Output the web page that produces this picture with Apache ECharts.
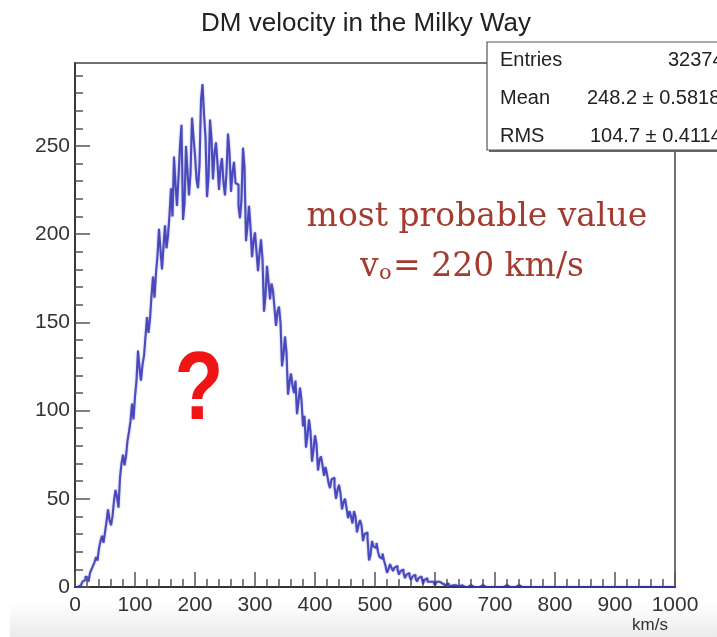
<!DOCTYPE html>
<html><head><meta charset="utf-8">
<script src="https://cdn.jsdelivr.net/npm/echarts@6/dist/echarts.min.js"></script>
<style>html,body{margin:0;padding:0;background:#fff}#c{width:717px;height:637px}</style>
</head><body><div id="c"></div>
<script>
const chartTitle = 'DM velocity in the Milky Way';
const xName = 'km/s';
const binWidth = 2.5;
const xMin = 0, xMax = 1000, xInterval = 100;
const yMin = 0, yMax = 297;
const counts = [
  0,0,1,1,1,3,4,6,5,3,8,10,12,14,17,15,22,26,29,25,
  31,37,44,38,35,40,49,55,51,45,62,70,75,69,74,83,88,94,104,95,
  108,117,134,124,117,126,131,142,153,144,152,165,176,164,178,188,203,191,180,193,
  205,192,199,211,226,210,244,228,216,232,250,262,208,217,250,235,222,234,266,255,
  245,231,226,239,276,285,268,255,221,232,265,254,231,246,252,240,225,238,243,229,
  222,235,257,246,224,235,241,229,228,216,209,220,249,238,196,205,216,204,187,196,
  201,190,179,189,197,186,156,165,182,173,163,172,168,158,148,156,159,150,125,132,
  142,133,109,116,121,114,110,117,98,105,113,106,91,97,79,86,95,88,71,78,
  86,81,66,72,74,69,63,68,64,59,56,61,62,57,50,55,58,53,44,48,
  50,45,39,43,40,36,43,40,31,35,38,35,26,30,31,28,15,18,26,23,
  22,25,20,17,16,19,15,12,8,10,13,11,9,11,12,10,7,9,10,8,
  5,7,8,6,4,6,7,5,3,5,6,5,2,4,5,3,3,4,3,2,
  1,3,3,2,2,1,1,1,2,1,0,1,2,1,1,0,0,1,0,0,
  1,0,0,1,0,0,1,0,0,0,0,1,0,0,1,0,0,0,0,0,
  1,0,0,0,0,0,0,1,1,0,0,0,0,0,0,1,0,0,0,0,
  0,0,0,0,1,0,0,0,0,0,0,0,0,0,0,0,0,0,0,0,
  0,0,0,0,0,0,0,0,0,0,0,0,0,0,0,0,0,0,0,0,
  0,0,0,0,0,0,0,0,0,0,0,0,0,0,0,0,0,0,0,0,
  0,0,0,0,0,0,0,0,0,0,0,0,0,0,0,0,0,0,0,0,
  0,0,0,0,0,0,0,0,0,0,0,0,0,0,0,0,0,0,0,0
];
const yMajorTicks = [0,50,100,150,200,250];
const yMinorTicks = [10,20,30,40,60,70,80,90,110,120,130,140,160,170,180,190,210,220,230,240,260,270,280,290];
const statsLabels = ['Entries','Mean','RMS'];
const statsValues = ['32374','248.2 \u00b1 0.5818','104.7 \u00b1 0.4114'];
const noteLine1 = 'most probable value';
const noteV = 'v', noteSub = 'o', noteRest = '= 220 km/s';
const questionMark = '?';

const histData = counts.map((c, i) => [xMin + i * binWidth, c]);
histData.push([xMin + counts.length * binWidth, counts[counts.length - 1]]);

const chart = echarts.init(document.getElementById('c'), null, {renderer: 'canvas'});
const sans = '"Liberation Sans", Arial, sans-serif';
const serif = '"DejaVu Serif", serif';
const statsX = [500, 500, 500];
const statsVX = [668, 587, 590];
const statsY = [60, 98, 136];
const graphics = [
  {type: 'rect', z: -10, shape: {x: 10, y: 602, width: 707, height: 35},
   style: {fill: new echarts.graphic.LinearGradient(0, 0, 0, 1, [{offset: 0, color: 'rgba(236,236,236,0)'}, {offset: 1, color: '#ebebeb'}])}},
  {type: 'text', z: 10, x: 668, y: 625, style: {text: xName, font: '17px ' + sans, fill: '#333', textAlign: 'right', textVerticalAlign: 'middle'}},
  {type: 'rect', z: 100, shape: {x: 489, y: 44, width: 240, height: 108}, style: {fill: '#666'}},
  {type: 'rect', z: 101, shape: {x: 487, y: 42, width: 240, height: 108}, style: {fill: '#fff', stroke: '#555', lineWidth: 1.2}},
  {type: 'text', z: 10, x: 477, y: 217, style: {text: noteLine1, font: '33px ' + serif, fill: '#a33b2f', textAlign: 'center', textVerticalAlign: 'middle'}},
  {type: 'text', z: 10, x: 360, y: 267, style: {text: noteV, font: '33px ' + serif, fill: '#a33b2f', textAlign: 'left', textVerticalAlign: 'middle'}},
  {type: 'text', z: 10, x: 379, y: 274, style: {text: noteSub, font: '21px ' + serif, fill: '#a33b2f', textAlign: 'left', textVerticalAlign: 'middle'}},
  {type: 'text', z: 10, x: 393, y: 267, style: {text: noteRest, font: '33px ' + serif, fill: '#a33b2f', textAlign: 'left', textVerticalAlign: 'middle'}},
  {type: 'text', z: 10, x: 199, y: 393, scaleY: 1.2, style: {text: questionMark, font: 'bold 80px ' + sans, fill: '#f21414', textAlign: 'center', textVerticalAlign: 'middle'}}
];
statsLabels.forEach((t, i) => {
  graphics.push({type: 'text', z: 102, x: statsX[i], y: statsY[i], style: {text: t, font: '20px ' + sans, fill: '#222', textAlign: 'left', textVerticalAlign: 'middle'}});
  graphics.push({type: 'text', z: 102, x: statsVX[i], y: statsY[i], style: {text: statsValues[i], font: '20px ' + sans, fill: '#222', textAlign: 'left', textVerticalAlign: 'middle'}});
});

chart.setOption({
  animation: false,
  backgroundColor: '#fff',
  title: {text: chartTitle, left: 361, top: 6, textAlign: 'center',
    textStyle: {fontFamily: sans, fontSize: 26, fontWeight: 'normal', color: '#222'}},
  grid: {left: 75, right: 42, top: 63, bottom: 50, show: true, borderColor: '#444', borderWidth: 1.5, backgroundColor: 'transparent'},
  xAxis: {
    type: 'value', min: xMin, max: xMax, interval: xInterval,
    axisLine: {show: true, lineStyle: {color: '#333', width: 1.8}},
    axisTick: {show: true, inside: true, length: 15, lineStyle: {color: '#555', width: 1.5}},
    minorTick: {show: true, splitNumber: 5, length: 8, lineStyle: {color: '#555', width: 1.5}},
    axisLabel: {fontFamily: sans, fontSize: 21, color: '#333', margin: 8, formatter: v => String(v)},
    splitLine: {show: false}, minorSplitLine: {show: false}
  },
  yAxis: [
    {type: 'value', min: yMin, max: yMax, position: 'left', offset: 0,
     axisLine: {show: true, lineStyle: {color: '#333', width: 1.8}},
     axisTick: {show: true, inside: true, length: 15, customValues: yMajorTicks, lineStyle: {color: '#555', width: 1.5}},
     axisLabel: {customValues: yMajorTicks, fontFamily: sans, fontSize: 21, color: '#333', margin: 5},
     splitLine: {show: false}},
    {type: 'value', min: yMin, max: yMax, position: 'left', offset: 0,
     axisLine: {show: false},
     axisTick: {show: true, inside: true, length: 8, customValues: yMinorTicks, lineStyle: {color: '#555', width: 1.5}},
     axisLabel: {show: false},
     splitLine: {show: false}}
  ],
  series: [{
    type: 'line', step: 'end', data: histData, xAxisIndex: 0, yAxisIndex: 0,
    symbol: 'none', showSymbol: false, z: 5,
    lineStyle: {color: 'rgba(50,50,180,0.82)', width: 2.1, shadowBlur: 2, shadowColor: 'rgba(40,40,170,0.5)'}
  }],
  graphic: graphics
});
</script></body></html>
